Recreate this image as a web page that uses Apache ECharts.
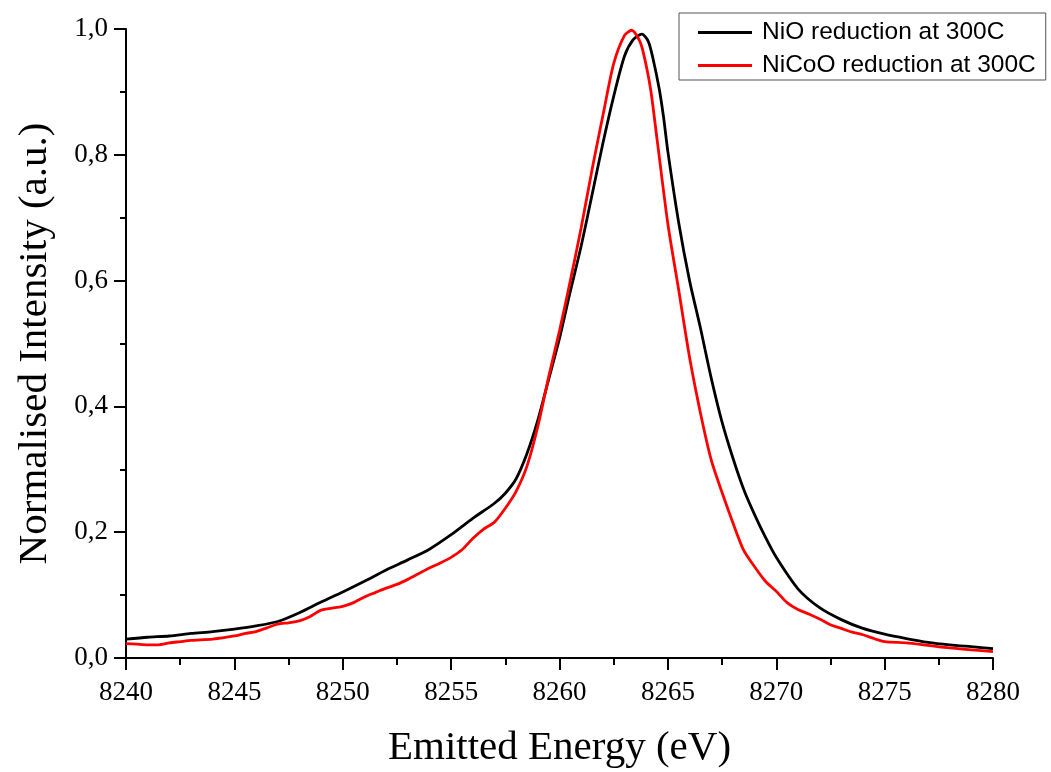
<!DOCTYPE html>
<html>
<head>
<meta charset="utf-8">
<title>Ni K-beta emission</title>
<script src="https://cdn.jsdelivr.net/npm/echarts@6/dist/echarts.min.js"></script>
<style>
  html, body { margin: 0; padding: 0; background: #fff; }
  #chart { width: 1051px; height: 772px; }
</style>
</head>
<body>
<div id="chart"></div>
<script>
// NiO reduced at 300 C
const nioEnergy = [8240, 8241, 8242, 8243, 8244, 8245, 8246, 8247, 8248, 8249,
  8250, 8251, 8252, 8253, 8254, 8255, 8256, 8257, 8257.5, 8258, 8258.5, 8259,
  8259.5, 8260, 8260.5, 8261, 8261.5, 8262, 8262.5, 8263, 8263.4, 8263.8,
  8264.1, 8264.3, 8264.6, 8264.8, 8265, 8265.5, 8266, 8266.5, 8267, 8267.5, 8268,
  8268.5, 8269, 8269.5, 8270, 8271, 8272, 8273, 8274, 8275, 8276, 8277, 8278,
  8279, 8280];
const nioIntensity = [0.030, 0.033, 0.035, 0.039, 0.042, 0.046, 0.051, 0.058, 0.072, 0.089,
  0.105, 0.122, 0.140, 0.156, 0.173, 0.196, 0.222, 0.246, 0.262, 0.285, 0.325, 0.378,
  0.443, 0.508, 0.583, 0.655, 0.736, 0.818, 0.893, 0.957, 0.983, 0.992,
  0.980, 0.955, 0.905, 0.860, 0.805, 0.692, 0.600, 0.525, 0.445, 0.375, 0.318,
  0.268, 0.228, 0.192, 0.160, 0.110, 0.080, 0.061, 0.047, 0.038, 0.031, 0.025, 0.021,
  0.018, 0.015];

// NiCoO reduced at 300 C
const nicooEnergy = [8240, 8240.5, 8241, 8241.5, 8242, 8242.5, 8243, 8244, 8245, 8245.5,
  8246, 8246.5, 8247, 8247.5, 8248, 8248.5, 8249, 8250, 8250.5, 8251, 8251.5,
  8252, 8252.5, 8253, 8253.5, 8254, 8254.5, 8255, 8255.5, 8256, 8256.5, 8257,
  8257.5, 8258, 8258.5, 8259, 8259.5, 8260, 8260.5, 8261, 8261.5, 8262, 8262.5,
  8263, 8263.33, 8263.67, 8263.87, 8264.2, 8264.5, 8265, 8265.5, 8266, 8266.5, 8267,
  8267.5, 8268, 8268.5, 8269, 8269.5, 8270, 8270.5, 8271, 8271.5, 8272, 8272.5,
  8273, 8273.5, 8274, 8274.5, 8275, 8276, 8277, 8278, 8279, 8280];
const nicooIntensity = [0.023, 0.022, 0.021, 0.021, 0.024, 0.026, 0.028, 0.030, 0.035, 0.039,
  0.042, 0.048, 0.054, 0.056, 0.059, 0.066, 0.076, 0.082, 0.088, 0.097, 0.104,
  0.111, 0.117, 0.125, 0.134, 0.143, 0.151, 0.160, 0.172, 0.190, 0.205, 0.216,
  0.238, 0.265, 0.305, 0.368, 0.447, 0.520, 0.600, 0.684, 0.776, 0.862, 0.945,
  0.990, 0.998, 0.983, 0.962, 0.905, 0.825, 0.690, 0.585, 0.478, 0.390, 0.315,
  0.263, 0.215, 0.171, 0.145, 0.122, 0.106, 0.088, 0.077, 0.070, 0.062, 0.053,
  0.047, 0.041, 0.037, 0.031, 0.026, 0.024, 0.020, 0.016, 0.013, 0.010];

const seriesNames = ['NiO reduction at 300C', 'NiCoO reduction at 300C'];

const pair = (xs, ys) => xs.map((x, i) => [x, ys[i]]);

const chart = echarts.init(document.getElementById('chart'), null, { renderer: 'canvas' });

const serif = 'Liberation Serif';

chart.setOption({
  animation: false,
  backgroundColor: '#ffffff',
  grid: {
    left: 126, right: 58, top: 29, bottom: 114,
    containLabel: false,
    outerBoundsMode: 'none'
  },
  legend: {
    orient: 'vertical',
    left: 679,
    top: 13,
    icon: 'rect',
    itemWidth: 54,
    itemHeight: 3,
    itemGap: 8,
    padding: [7, 10, 2, 19],
    borderColor: '#555',
    borderWidth: 1,
    textStyle: {
      fontFamily: 'Liberation Sans', fontSize: 24.5, color: '#000',
      padding: [0, 0, 0, 5]
    },
    data: seriesNames
  },
  xAxis: {
    type: 'value',
    min: 8240,
    max: 8280,
    interval: 5,
    name: 'Emitted Energy (eV)',
    nameLocation: 'middle',
    nameGap: 70,
    nameTextStyle: { fontFamily: serif, fontSize: 41, color: '#000' },
    axisLine: { show: true, onZero: false, lineStyle: { color: '#000', width: 2 } },
    axisTick: { show: true, inside: false, length: 12, lineStyle: { color: '#000', width: 2 } },
    minorTick: { show: true, splitNumber: 2, length: 7, lineStyle: { color: '#000', width: 2 } },
    splitLine: { show: false },
    axisLabel: {
      fontFamily: serif, fontSize: 27, color: '#000', margin: 21,
      formatter: v => String(v)
    }
  },
  yAxis: {
    type: 'value',
    min: 0,
    max: 1,
    interval: 0.2,
    name: 'Normalised Intensity (a.u.)',
    nameLocation: 'middle',
    nameRotate: 90,
    nameGap: 70,
    nameTextStyle: { fontFamily: serif, fontSize: 41, color: '#000' },
    axisLine: { show: true, onZero: false, lineStyle: { color: '#000', width: 2 } },
    axisTick: { show: true, inside: false, length: 12, lineStyle: { color: '#000', width: 2 } },
    minorTick: { show: true, splitNumber: 2, length: 6, lineStyle: { color: '#000', width: 2 } },
    splitLine: { show: false },
    axisLabel: {
      fontFamily: serif, fontSize: 27, color: '#000', margin: 18,
      formatter: v => v.toFixed(1).replace('.', ',')
    }
  },
  series: [
    {
      name: seriesNames[0],
      type: 'line',
      data: pair(nioEnergy, nioIntensity),
      symbol: 'none',
      smooth: 0.25,
      lineStyle: { color: '#000000', width: 2.8 },
      itemStyle: { color: '#000000' },
      z: 2
    },
    {
      name: seriesNames[1],
      type: 'line',
      data: pair(nicooEnergy, nicooIntensity),
      symbol: 'none',
      smooth: 0.25,
      lineStyle: { color: '#ff0000', width: 2.8 },
      itemStyle: { color: '#ff0000' },
      z: 3
    }
  ]
});
</script>
</body>
</html>
